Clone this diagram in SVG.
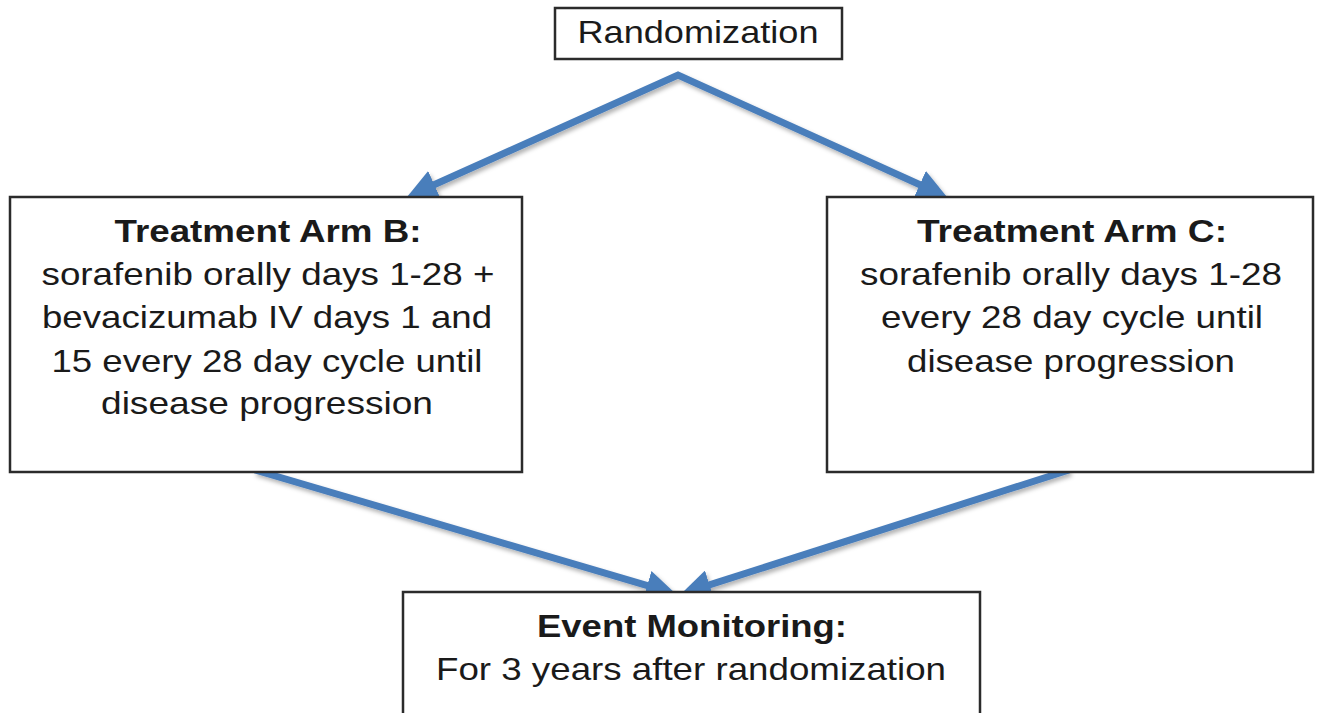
<svg xmlns="http://www.w3.org/2000/svg" width="1321" height="713" viewBox="0 0 1321 713">
  <style>
    .box { fill: #ffffff; stroke: #2b2b2b; stroke-width: 2.5; }
    .title { font-family: "Liberation Sans", Arial, sans-serif; font-size: 32px; font-weight: bold; fill: #1a1a1a; text-anchor: middle; }
    .body { font-family: "Liberation Sans", Arial, sans-serif; font-size: 32px; fill: #1a1a1a; text-anchor: middle; }
    .flow { fill: none; stroke: #4a7ebb; stroke-width: 7; stroke-linejoin: miter; }
  </style>
  <defs>
    <marker id="head" markerUnits="userSpaceOnUse" viewBox="0 0 30 30" refX="10" refY="15" markerWidth="30" markerHeight="30" orient="auto-start-reverse">
      <path d="M0,0 L30,15 L0,30 z" fill="#4a7ebb"/>
    </marker>
    <filter id="shade" x="-10%" y="-10%" width="120%" height="130%">
      <feDropShadow dx="2" dy="3" stdDeviation="2" flood-color="#000" flood-opacity="0.3"/>
    </filter>
  </defs>

  <rect width="1321" height="713" fill="#ffffff"/>

  <!-- connectors -->
  <g id="connectors" filter="url(#shade)">
    <path class="flow" d="M425.2,188.8 L678,75 L928.8,188.7" marker-start="url(#head)" marker-end="url(#head)"/>
    <path class="flow" d="M255,470 L656.8,588.3" marker-end="url(#head)"/>
    <path class="flow" d="M1069,470 L700,587.9" marker-end="url(#head)"/>
  </g>

  <!-- randomization -->
  <g id="randomization">
    <rect class="box" x="555" y="8" width="287" height="51"/>
    <text class="body" x="698" y="43" textLength="241" lengthAdjust="spacingAndGlyphs">Randomization</text>
  </g>

  <!-- arm B -->
  <g id="arm-b">
    <rect class="box" x="10" y="197" width="512" height="275"/>
    <text class="title" x="268" y="242" textLength="307" lengthAdjust="spacingAndGlyphs">Treatment Arm B:</text>
    <text class="body" x="268" y="285" textLength="453" lengthAdjust="spacingAndGlyphs">sorafenib orally days 1-28 +</text>
    <text class="body" x="267" y="328" textLength="450" lengthAdjust="spacingAndGlyphs">bevacizumab IV days 1 and</text>
    <text class="body" x="267" y="372" textLength="431" lengthAdjust="spacingAndGlyphs">15 every 28 day cycle until</text>
    <text class="body" x="267" y="414" textLength="332" lengthAdjust="spacingAndGlyphs">disease progression</text>
  </g>

  <!-- arm C -->
  <g id="arm-c">
    <rect class="box" x="827" y="197" width="486" height="275"/>
    <text class="title" x="1072" y="242" textLength="310" lengthAdjust="spacingAndGlyphs">Treatment Arm C:</text>
    <text class="body" x="1071" y="285" textLength="422" lengthAdjust="spacingAndGlyphs">sorafenib orally days 1-28</text>
    <text class="body" x="1072" y="328" textLength="382" lengthAdjust="spacingAndGlyphs">every 28 day cycle until</text>
    <text class="body" x="1071" y="372" textLength="328" lengthAdjust="spacingAndGlyphs">disease progression</text>
  </g>

  <!-- event monitoring -->
  <g id="event-monitoring">
    <rect class="box" x="403" y="592" width="577" height="140"/>
    <text class="title" x="692" y="637" textLength="310" lengthAdjust="spacingAndGlyphs">Event Monitoring:</text>
    <text class="body" x="691" y="680" textLength="510" lengthAdjust="spacingAndGlyphs">For 3 years after randomization</text>
  </g>
</svg>
